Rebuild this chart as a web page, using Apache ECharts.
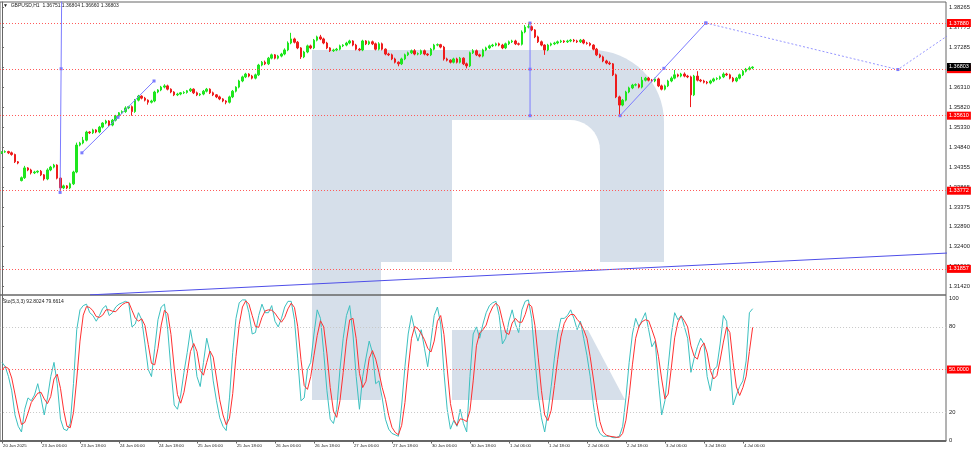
<!DOCTYPE html>
<html><head><meta charset="utf-8">
<script src="https://cdn.jsdelivr.net/npm/echarts@6/dist/echarts.min.js"></script>
<style>html,body{margin:0;padding:0;background:#fff}#c{width:973px;height:452px}</style>
</head><body><div id="c"></div>
<script>
// ---- data (H1 bars, index 0 = 20 Jun 2025 18:00) ----
const closes = [
1.3472,1.3473,1.3470,1.3466,1.3448,1.3445,1.3409,1.3433,1.3428,1.3421,
1.3423,1.3425,1.3416,1.3406,1.3428,1.3435,1.3440,1.3408,1.3384,1.3389,
1.3384,1.3394,1.3423,1.3489,1.3494,1.3501,1.3521,1.3519,1.3526,1.3521,
1.3533,1.3543,1.3548,1.3538,1.3550,1.3560,1.3568,1.3571,1.3580,1.3583,
1.3571,1.3599,1.3609,1.3604,1.3599,1.3594,1.3597,1.3619,1.3624,1.3631,
1.3634,1.3626,1.3619,1.3612,1.3614,1.3617,1.3618,1.3622,1.3626,1.3617,
1.3612,1.3614,1.3621,1.3626,1.3617,1.3612,1.3607,1.3602,1.3597,1.3594,
1.3607,1.3621,1.3631,1.3646,1.3656,1.3663,1.3658,1.3653,1.3661,1.3685,
1.3692,1.3688,1.3702,1.3710,1.3702,1.3707,1.3712,1.3722,1.3739,1.3749,
1.3741,1.3727,1.3705,1.3717,1.3732,1.3727,1.3746,1.3754,1.3749,1.3739,
1.3727,1.3720,1.3722,1.3724,1.3732,1.3734,1.3739,1.3744,1.3734,1.3724,
1.3722,1.3744,1.3737,1.3742,1.3737,1.3724,1.3737,1.3724,1.3712,1.3710,
1.3700,1.3692,1.3688,1.3700,1.3710,1.3715,1.3720,1.3712,1.3713,1.3720,
1.3712,1.3710,1.3724,1.3734,1.3735,1.3729,1.3700,1.3697,1.3692,1.3700,
1.3692,1.3702,1.3688,1.3683,1.3715,1.3720,1.3710,1.3707,1.3722,1.3727,
1.3732,1.3734,1.3737,1.3734,1.3727,1.3737,1.3742,1.3744,1.3737,1.3736,
1.3766,1.3778,1.3779,1.3771,1.3754,1.3742,1.3734,1.3722,1.3734,1.3737,
1.3739,1.3742,1.3744,1.3742,1.3744,1.3746,1.3744,1.3742,1.3746,1.3739,
1.3738,1.3734,1.3724,1.3710,1.3705,1.3695,1.3690,1.3688,1.3661,1.3607,
1.3587,1.3599,1.3619,1.3629,1.3636,1.3637,1.3631,1.3648,1.3653,1.3648,
1.3646,1.3651,1.3634,1.3626,1.3634,1.3646,1.3653,1.3661,1.3658,1.3663,
1.3658,1.3656,1.3612,1.3658,1.3648,1.3646,1.3643,1.3641,1.3646,1.3651,
1.3652,1.3656,1.3663,1.3661,1.3653,1.3646,1.3653,1.3661,1.3670,1.3675,
1.3678,1.3680
];
const firstOpen = 1.3470;
const gapOpens = [[6, 1.3402]];
const upWick = [
2,3,2,3,2,2,3,5,2,3, 3,2,3,2,4,3,3,2,2,3, 2,3,3,6,3,8,3,2,3,2, 3,2,3,2,3,3,2,3,4,2,
3,3,3,2,3,2,3,3,2,3, 4,3,2,2,3,2,3,2,3,2, 3,2,3,3,2,3,2,3,2,2, 3,3,2,3,3,3,2,3,3,3,
3,4,3,3,2,3,3,4,4,15, 3,3,2,3,3,3,3,3,5,3, 3,2,3,3,3,2,3,3,2,3, 3,3,2,3,3,3,4,3,2,3,
3,3,2,3,3,3,3,4,3,3, 3,2,3,3,3,2,3,3,2,3, 3,3,2,3,3,4,3,3,3,3, 3,3,3,3,3,3,3,3,3,3,
4,5,10,3,2,3,3,2,3,3, 3,3,3,2,3,3,3,3,3,3, 3,3,2,3,3,3,3,4,2,3, 3,3,3,3,3,3,3,8,3,3,
3,3,3,3,3,3,4,12,3,3, 4,3,3,3,12,3,3,3,3,3, 3,3,4,3,3,3,3,3,3,3, 4,2
];
const downWick = [
3,2,3,3,3,3,2,3,3,4, 3,3,3,4,3,3,3,3,7,3, 3,3,3,3,3,3,3,3,3,3, 3,3,3,3,3,3,3,3,3,3,
10,3,3,3,3,6,3,3,3,3, 3,3,3,3,3,3,3,3,3,3, 3,3,3,3,3,3,3,3,3,5, 3,3,3,3,3,3,3,3,3,3,
3,3,3,3,3,3,3,3,3,3, 3,3,5,3,3,3,3,3,3,3, 3,3,3,3,3,3,3,3,3,3, 3,3,3,3,3,3,3,3,3,3,
3,3,6,3,3,3,3,3,3,3, 3,3,3,3,3,3,4,3,3,3, 3,3,3,6,3,3,3,3,3,3, 3,3,3,3,3,3,3,3,3,3,
3,3,3,3,3,3,3,12,3,3, 3,3,3,3,3,3,3,3,3,3, 3,3,3,3,3,3,3,3,3,3, 26,3,3,3,3,3,3,3,3,3,
3,3,3,3,3,3,3,3,3,3, 3,3,30,3,3,3,3,3,3,3, 3,3,3,3,3,3,3,3,3,3, 3,3
];
const tickBars = [0,12,24,36,48,60,72,84,96,108,120,132,144,156,168,180,192,204,216,228];
const tickLabels = ['20 Jun 2025','23 Jun 06:00','23 Jun 18:00','24 Jun 06:00','24 Jun 18:00',
  '25 Jun 06:00','25 Jun 18:00','26 Jun 06:00','26 Jun 18:00','27 Jun 06:00','27 Jun 18:00',
  '30 Jun 06:00','30 Jun 18:00','1 Jul 06:00','1 Jul 18:00','2 Jul 06:00','2 Jul 18:00',
  '3 Jul 06:00','3 Jul 18:00','4 Jul 06:00'];
const priceTicks = [1.38265,1.37775,1.37285,1.36795,1.36310,1.35820,1.35330,1.34840,1.34355,1.33865,1.33375,1.32890,1.32400,1.31910,1.31420];
const levelPrices = [1.37880, 1.36750, 1.35610, 1.33772, 1.31857];
const bidPrice = 1.36803;
const stochTicks = [0, 20, 80, 100];
const stochLevels = [20, 80];
const stochMid = 50;
// Stochastic %K (main) and %D (signal), one value per bar
const stochK = [
55,52,45,35,18,10,6,22,30,28, 32,40,30,18,30,45,55,40,15,8,
7,12,40,78,92,95,96,90,88,84, 88,93,95,88,90,94,96,97,98,97,
80,82,90,85,68,50,45,65,85,94, 96,78,50,25,22,32,48,62,78,65,
45,38,55,72,62,42,28,16,10,7, 30,62,86,97,99,99,90,75,76,88,
96,90,90,95,84,80,86,94,98,98, 85,58,28,30,50,55,75,92,86,62,
35,15,12,22,50,72,88,95,75,45, 22,45,58,70,62,40,42,30,15,8,
5,4,3,25,52,75,88,78,70,78, 65,52,70,88,94,82,48,22,8,14,
10,22,12,6,45,75,80,72,82,90, 95,97,98,88,68,72,84,92,82,76,
92,98,99,86,58,32,16,6,20,38, 58,75,86,86,88,92,86,78,84,72,
60,45,25,10,5,3,3,3,2,2, 3,10,30,55,75,86,80,85,90,78,
66,70,42,18,28,52,75,90,85,88, 80,72,48,58,66,72,68,45,35,50,
52,68,88,84,56,25,32,38,42,56, 90,92.8
];
const stochD = [
50,52,50.7,44,32.7,21,11.3,12.7,19.3,26.7, 30,33.3,34,29.3,26,31,43.3,46.7,36.7,21,
10,9,19.7,43.3,70,88.3,94.3,93.7,91.3,87.3, 86.7,88.3,92,92,91,90.7,93.3,95.7,97,97.3,
91.7,86.3,84,85.7,81,67.7,54.3,53.3,65,81.3, 91.7,89.3,74.7,51,32.3,26.3,34,47.3,62.7,68.3,
62.7,49.3,46,55,63,58.7,44,28.7,18,11, 15.7,33,59.3,81.7,94,98.3,96,88,80.3,79.7,
86.7,91.3,92,91.7,89.7,86.3,83.3,86.7,92.7,96.7, 93.7,80.3,57,38.7,36,45,60,74,84.3,80,
61,37.3,20.7,16.3,28,48,70,85,86,71.7, 47.3,37.3,41.7,57.7,63.3,57.3,48,37.3,29,17.7,
9.3,5.7,4,10.7,26.7,50.7,71.7,80.3,78.7,75.3, 71,65,62.3,70,84,88,74.7,50.7,26,14.7,
10.7,15.3,14.7,13.3,21,42,66.7,75.7,78,81.3, 89,94,96.7,94.3,84.7,76,74.7,82.7,86,83.3,
83.3,88.7,96.3,94.3,81,58.7,35.3,18,14,21.3, 38.7,57,73,82.3,86.7,88.7,88.7,85.3,82.7,78,
72,59,43.3,26.7,13.3,6,3.7,3,2.7,2.3, 2.3,5,14.3,31.7,53.3,72,80.3,83.7,85,84.3,
78,71.3,59.3,43.3,29.3,32.7,51.7,72.3,83.3,87.7, 84.3,80,66.7,59.3,57.3,65.3,68.7,61.7,49.3,43.3,
45.7,56.7,69.3,80,76,55,37.7,31.7,37.3,45.3, 62.7,79.66
];
// drawn objects, [bar, price]
const vLineA = [[17.9, 1.3373], [18.2, 1.3676], [18.5, 1.3979]];
const trendB = [[24.6, 1.3470], [35.7, 1.3557], [46.8, 1.3646]];
const vLineC = [[162.5, 1.3788], [162.5, 1.3675], [162.5, 1.3561]];
const fcSolid = [[190.2, 1.3561], [203.7, 1.3677], [216.6, 1.3788]];
const fcDotted = [[216.6, 1.3788], [275.7, 1.3674], [305, 1.3833]];
const longTrend = [[27.1, 1.3122], [300, 1.3228]];

const X_MIN = -0.6, X_MAX = 290.5;
const Y_MIN = 1.31217, Y_MAX = 1.38395;

const candleData = closes.map((c, i) => {
  let o = i === 0 ? firstOpen : closes[i - 1];
  gapOpens.forEach(g => { if (g[0] === i) o = g[1]; });
  const h = Math.max(o, c) + upWick[i] * 0.0001;
  const l = Math.min(o, c) - downWick[i] * 0.0001;
  return [i, o, c, +l.toFixed(5), +h.toFixed(5)];
});

// watermark (logo) outline helpers
function arcPts(cx, cy, r, a0, a1, n) {
  const p = [];
  for (let k = 0; k <= n; k++) { const a = a0 + (a1 - a0) * k / n; p.push([cx + r * Math.cos(a), cy + r * Math.sin(a)]); }
  return p;
}
const bowlPts = [[312, 50]].concat(arcPts(592, 122, 72, -Math.PI / 2, 0, 16)).concat([[664, 262], [312, 262]]);
const holePts = [[452, 120]].concat(arcPts(570, 150, 30, -Math.PI / 2, 0, 10)).concat([[600, 262], [452, 262]]);

const FONT = 'Liberation Sans';
const UP = '#1ee61e', DOWN = '#ee1c1c', OBJ = '#7c7cff', WM = '#d6dfea';
const chart = echarts.init(document.getElementById('c'), null, {renderer: 'canvas'});

function objLine(data, dotted, symbols) {
  return {
    type: 'line', xAxisIndex: 0, yAxisIndex: 0, data: data, animation: false, silent: true,
    symbol: symbols ? 'rect' : 'none', symbolSize: 3, showSymbol: !!symbols,
    itemStyle: {color: OBJ}, z: 4,
    lineStyle: {color: OBJ, width: 1, type: dotted ? [2, 2] : 'solid', opacity: dotted ? 0.8 : 1}
  };
}
const boxLabel = {position: 'end', distance: 1, fontSize: 5.5, fontFamily: FONT, color: '#fff', backgroundColor: '#ff0000', padding: [1, 2, 1, 2]};

chart.setOption({
  animation: false,
  backgroundColor: '#ffffff',
  grid: [
    {left: 0, top: 2, width: 946, height: 293, show: true, borderColor: '#666', borderWidth: 1, backgroundColor: 'transparent'},
    {left: 0, top: 295, width: 946, height: 146.5, show: true, borderColor: '#666', borderWidth: 1, backgroundColor: 'transparent'}
  ],
  xAxis: [
    {type: 'value', gridIndex: 0, min: X_MIN, max: X_MAX, axisLine: {show: false}, axisTick: {show: false}, axisLabel: {show: false}, splitLine: {show: false}},
    {type: 'value', gridIndex: 1, min: X_MIN, max: X_MAX, splitLine: {show: false},
     axisLine: {show: true, lineStyle: {color: '#666'}},
     axisTick: {show: true, customValues: tickBars, length: 3, lineStyle: {color: '#666'}},
     axisLabel: {show: true, customValues: tickBars, align: 'left', margin: 2, fontSize: 4.3, fontFamily: FONT, color: '#222', padding: [0, 0, 0, 1],
       formatter: v => { const k = tickBars.indexOf(Math.round(v)); return k >= 0 ? tickLabels[k] : ''; }}}
  ],
  yAxis: [
    {type: 'value', gridIndex: 0, position: 'right', min: Y_MIN, max: Y_MAX, splitLine: {show: false},
     axisLine: {show: true, lineStyle: {color: '#666'}},
     axisTick: {show: true, customValues: priceTicks, length: 2, lineStyle: {color: '#666'}},
     axisLabel: {show: true, customValues: priceTicks, margin: 3, fontSize: 5.8, fontFamily: FONT, color: '#222', formatter: v => v.toFixed(5)}},
    {type: 'value', gridIndex: 1, position: 'right', min: -0.7, max: 102.46, splitLine: {show: false},
     axisLine: {show: true, lineStyle: {color: '#666'}},
     axisTick: {show: true, customValues: stochTicks, length: 2, lineStyle: {color: '#666'}},
     axisLabel: {show: true, customValues: stochTicks, margin: 3, fontSize: 5.8, fontFamily: FONT, color: '#222', formatter: v => String(v)}}
  ],
  graphic: [
    {type: 'rect', z: -10, silent: true, shape: {x: 312, y: 50, width: 69, height: 350}, style: {fill: WM}},
    {type: 'polygon', z: -10, silent: true, shape: {points: bowlPts}, style: {fill: WM}},
    {type: 'polygon', z: -9, silent: true, shape: {points: holePts}, style: {fill: '#ffffff'}},
    {type: 'polygon', z: -10, silent: true, shape: {points: [[452, 330], [588, 330], [625, 400], [452, 400]]}, style: {fill: WM}},
    {type: 'text', z: 100, left: 3, top: 3, style: {text: '\u25BC  GBPUSD,H1  1.36751 1.36804 1.36660 1.36803', fontSize: 5, fontFamily: FONT, fill: '#222'}},
    {type: 'text', z: 100, left: 3, top: 299, style: {text: 'Sto(5,3,3) 92.8024 79.6614', fontSize: 5, fontFamily: FONT, fill: '#222'}}
  ],
  series: [
    {type: 'candlestick', xAxisIndex: 0, yAxisIndex: 0, data: candleData, barWidth: 2, z: 3,
     itemStyle: {color: UP, color0: DOWN, borderColor: UP, borderColor0: DOWN, borderWidth: 1},
     markLine: {silent: true, symbol: ['none', 'none'], animation: false, precision: 5,
       lineStyle: {color: '#ff5a5a', type: [1, 2], width: 1},
       label: boxLabel,
       data: levelPrices.map(p => ({yAxis: p, label: {formatter: p.toFixed(5)}}))}},
    {type: 'line', xAxisIndex: 0, yAxisIndex: 0, data: [], z: 6, silent: true,
     markLine: {silent: true, symbol: ['none', 'none'], animation: false, precision: 5,
       lineStyle: {color: 'rgba(0,0,0,0)', width: 0},
       label: Object.assign({}, boxLabel, {backgroundColor: '#000000', formatter: bidPrice.toFixed(5)}),
       data: [{yAxis: bidPrice}]}},
    objLine(vLineA, false, true),
    objLine(trendB, false, true),
    objLine(vLineC, false, true),
    objLine(fcSolid, false, true),
    objLine(fcDotted, true, true),
    Object.assign(objLine(longTrend, false, false), {lineStyle: {color: '#4e4ee8', width: 1}}),
    {type: 'line', xAxisIndex: 1, yAxisIndex: 1, data: stochK.map((v, i) => [i, v]), showSymbol: false, symbol: 'none',
     lineStyle: {color: '#3cc0c0', width: 1}, z: 4, silent: true,
     markLine: {silent: true, symbol: ['none', 'none'], animation: false, precision: 4,
       lineStyle: {color: '#c8c8c8', type: [1, 2], width: 1}, label: {show: false},
       data: stochLevels.map(v => ({yAxis: v}))}},
    {type: 'line', xAxisIndex: 1, yAxisIndex: 1, data: stochD.map((v, i) => [i, v]), showSymbol: false, symbol: 'none',
     lineStyle: {color: '#ff3030', width: 1}, z: 5, silent: true,
     markLine: {silent: true, symbol: ['none', 'none'], animation: false, precision: 4,
       lineStyle: {color: '#ff5a5a', type: [1, 2], width: 1},
       label: Object.assign({}, boxLabel, {formatter: stochMid.toFixed(4)}),
       data: [{yAxis: stochMid}]}}
  ]
});
</script></body></html>
